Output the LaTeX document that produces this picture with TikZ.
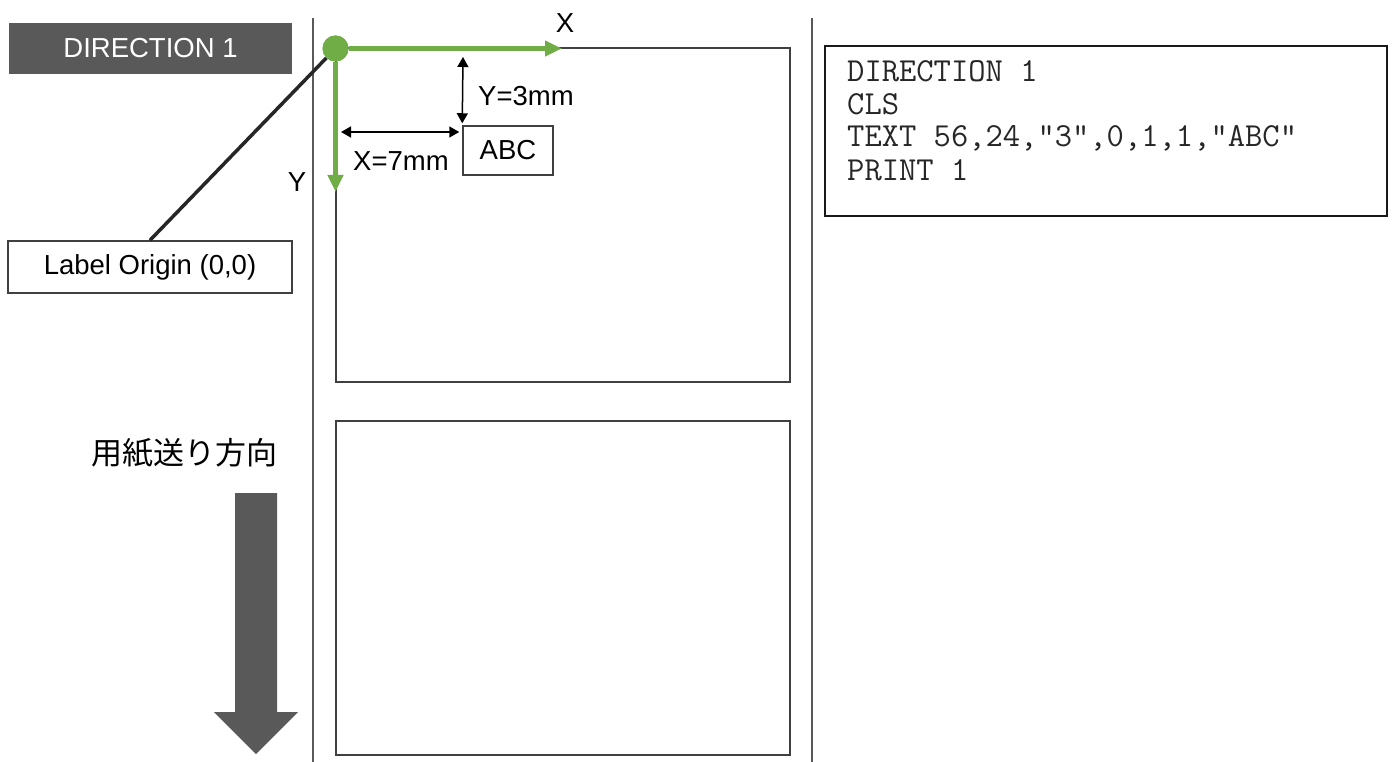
\documentclass[tikz,border=0pt]{standalone}
\usepackage{fontspec}
\setmainfont{Liberation Sans}
\newfontfamily\jpfont{Noto Sans CJK JP}
\usetikzlibrary{arrows.meta}
\definecolor{leafgreen}{HTML}{70AD47}
\definecolor{slate}{HTML}{595959}
\definecolor{edgegray}{HTML}{404040}

\tikzset{
  lbl/.style={font=\fontsize{27.5}{32}\selectfont, inner sep=0pt},
  codeline/.style={font=\ttfamily\fontsize{33.6}{36}\selectfont, text=black!85, inner sep=0pt, anchor=base west},
  paper/.style={draw=edgegray, line width=2pt, inner sep=0pt},
  thinbox/.style={draw=edgegray, line width=1.5pt, inner sep=0pt},
  separator/.style={draw=slate, line width=1.5pt},
  greenarrow/.style={draw=leafgreen, line width=4.5pt, -{Triangle[length=17pt,width=15pt]}},
  dimarrow/.style={draw=black, line width=1.5pt,
    {Triangle[length=10pt,width=11pt]}-{Triangle[length=10pt,width=11pt]}},
}

\begin{document}
\begin{tikzpicture}[x=1pt,y=-1pt]
\useasboundingbox (0,0) rectangle (1394,762);

% column separators
\draw[separator] (313,18) -- (313,762);
\draw[separator] (812,18) -- (812,762);

% title banner
\node[fill=slate, text=white, minimum width=283pt, minimum height=51pt,
      inner sep=0pt, font=\fontsize{27.5}{32}\selectfont] (banner) at (150.5,48.5) {DIRECTION 1};

% two labels on the liner
\node[paper, minimum width=454pt, minimum height=333.5pt] (lab1) at (562.5,215.25) {};
\node[paper, minimum width=454pt, minimum height=334pt] (lab2) at (562.5,588) {};

% printed text and its offsets
\node[thinbox, minimum width=90pt, minimum height=49pt, font=\fontsize{27.5}{32}\selectfont]
  (abc) at (508,150.5) {ABC};

% origin and axes
\node[circle, fill=leafgreen, minimum size=26pt, inner sep=0pt] (o) at (335.5,48.5) {};
\coordinate (xend) at (562,48.5);
\coordinate (yend) at (335.5,192);
\draw[greenarrow] (o) -- (xend);
\draw[greenarrow] (o) -- (yend);
\node[lbl] (xlab) at (565,23) {X};
\node[lbl] (ylab) at (297,182) {Y};

\coordinate (ytop) at (463,57);
\draw[dimarrow] (ytop) -- ([yshift=2pt]abc.north west);
\node[lbl, anchor=west] (ymm) at (478,96) {Y=3mm};

\coordinate (xleft) at (341,132);
\draw[dimarrow] (xleft) -- ([xshift=-3pt]xleft -| abc.west);
\node[lbl] (xmm) at (401,161) {X=7mm};

% callout for the origin
\node[thinbox, minimum width=284pt, minimum height=52pt, font=\fontsize{27.5}{32}\selectfont]
  (lo) at (150,267) {Label Origin (0,0)};
\draw[draw=black!85, line width=3.5pt] (o) -- (lo.north);
\node[circle, fill=leafgreen, minimum size=26pt, inner sep=0pt] at (o) {};

% command listing
\node[draw=black!90, line width=2pt, minimum width=562pt, minimum height=170pt, inner sep=0pt]
  (code) at (1106,131) {};
\node[codeline] (c1) at (847,82) {DIRECTION 1};
\node[codeline] (c2) at (847,114.5) {CLS};
\node[codeline] (c3) at (847,147) {TEXT 56,24,"3",0,1,1,"ABC"};
\node[codeline] (c4) at (847,181) {PRINT 1};

% feed direction
\node[inner sep=0pt, anchor=east, font=\jpfont\fontsize{31}{36}\selectfont] (feed) at (278,453) {用紙送り方向};
\fill[slate] (235,493) -- (277,493) -- (277,712) -- (298,712) -- (256,754)
  -- (214,712) -- (235,712) -- cycle;
\end{tikzpicture}
\end{document}
